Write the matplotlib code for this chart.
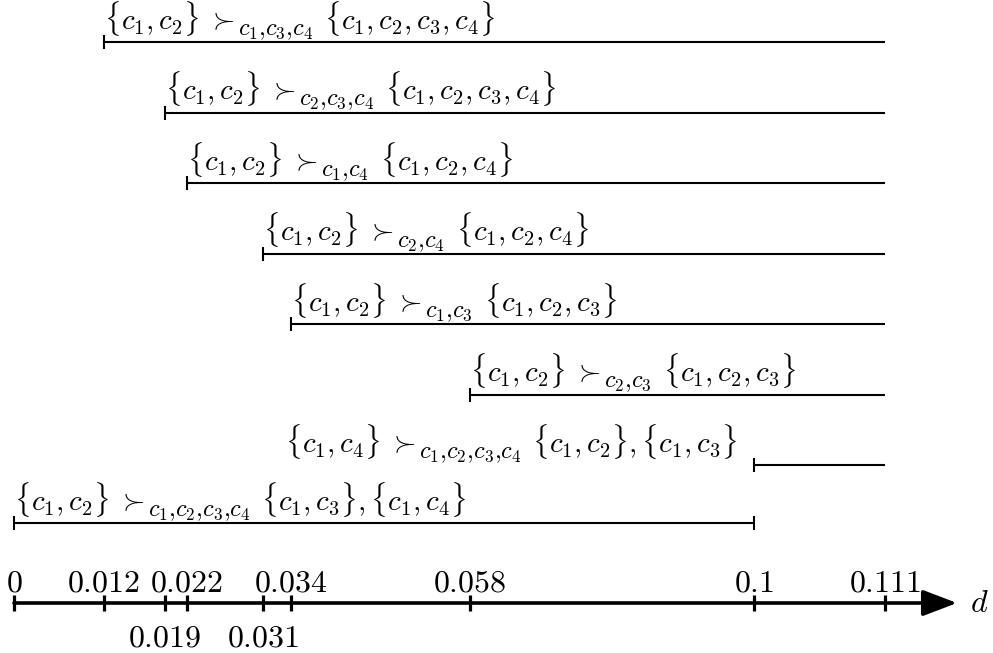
import matplotlib
matplotlib.use('Agg')
import matplotlib.pyplot as plt
import numpy as np

# breakpoints on the d axis
breaks = [0, 0.012, 0.019, 0.022, 0.031, 0.034, 0.058, 0.1, 0.111]
break_labels = ['0', '0.012', '0.019', '0.022', '0.031', '0.034', '0.058', '0.1', '0.111']
labels_below = ['0.019', '0.031']

# intervals (top to bottom)
starts = [0.012, 0.019, 0.022, 0.031, 0.034, 0.058, 0.1, 0]
ends = [0.111, 0.111, 0.111, 0.111, 0.111, 0.111, 0.111, 0.1]
closed_right = [False, False, False, False, False, False, False, True]
lhs = ['c_1, c_2', 'c_1, c_2', 'c_1, c_2', 'c_1, c_2', 'c_1, c_2', 'c_1, c_2', 'c_1, c_4', 'c_1, c_2']
subs = ['c_1,c_3,c_4', 'c_2,c_3,c_4', 'c_1,c_4', 'c_2,c_4', 'c_1,c_3', 'c_2,c_3',
        'c_1,c_2,c_3,c_4', 'c_1,c_2,c_3,c_4']
rhs = [r'\{c_1, c_2, c_3, c_4\}', r'\{c_1, c_2, c_3, c_4\}', r'\{c_1, c_2, c_4\}',
       r'\{c_1, c_2, c_4\}', r'\{c_1, c_2, c_3\}', r'\{c_1, c_2, c_3\}',
       r'\{c_1, c_2\}, \{c_1, c_3\}', r'\{c_1, c_3\}, \{c_1, c_4\}']
text_right = [False, False, False, False, False, False, True, False]

# layout: the drawing is not to scale, so map the breakpoints onto where they sit
px = [14, 104, 165, 187, 263, 291, 470, 754, 885]
slope = (px[-1] - px[0]) / breaks[-1]
b_ext = np.array([-0.05] + breaks + [0.2])
p_ext = np.array([px[0] - 0.05 * slope] + px + [px[-1] + (0.2 - breaks[-1]) * slope])


def fwd(v):
    return np.interp(v, b_ext, p_ext)


def inv(p):
    return np.interp(p, p_ext, b_ext)


row_y = [42, 112.5, 183, 253.5, 324, 394.5, 465, 523]
axis_y = 603

plt.rcParams['mathtext.fontset'] = 'cm'
plt.rcParams['font.family'] = 'serif'
plt.rcParams['font.serif'] = ['DejaVu Serif']
fs = 21
fs_sub = 17.5
gap_sub = 2      # points between the relation and its subscript
gap_rhs = 8      # points between the subscript and the right-hand side
drop_sub = -3    # subscript sits a little below the braces
lift = 3         # text above its interval line

fig = plt.figure(figsize=(9.93, 6.53), dpi=100)
ax = fig.add_axes([0, 0, 1, 1])
ax.set_xscale('function', functions=(fwd, inv))
ax.set_xlim(inv(0), inv(993))
ax.set_ylim(653, 0)
ax.axis('off')

for i in range(len(starts)):
    y = row_y[i]
    ax.plot([starts[i], ends[i]], [y, y], color='black', lw=1.5, solid_capstyle='butt')
    ax.plot([starts[i]], [y], ls='none', marker='|', ms=9.5, mew=1.5, color='black')
    if closed_right[i]:
        ax.plot([ends[i]], [y], ls='none', marker='|', ms=9.5, mew=1.5, color='black')

    t1 = r'$\{' + lhs[i] + r'\}\;\succ$'
    t2 = '$' + subs[i].replace(',', '{,}') + '$'
    t3 = '$' + rhs[i] + '$'
    if not text_right[i]:
        a1 = ax.annotate(t1, (starts[i], y), xytext=(0, lift), textcoords='offset points',
                         ha='left', va='bottom', fontsize=fs)
        a2 = ax.annotate(t2, (1, 0), xycoords=a1, xytext=(gap_sub, drop_sub),
                         textcoords='offset points', ha='left', va='bottom', fontsize=fs_sub)
        ax.annotate(t3, (1, 0), xycoords=(a2, a1), xytext=(gap_rhs, 0),
                    textcoords='offset points', ha='left', va='bottom', fontsize=fs)
    else:
        a3 = ax.annotate(t3, (starts[i], y), xytext=(-12, lift), textcoords='offset points',
                         ha='right', va='bottom', fontsize=fs)
        a2 = ax.annotate(t2, (0, 0), xycoords=a3, xytext=(-gap_rhs, drop_sub),
                         textcoords='offset points', ha='right', va='bottom', fontsize=fs_sub)
        ax.annotate(t1, (0, 0), xycoords=(a2, a3), xytext=(-gap_sub, 0),
                    textcoords='offset points', ha='right', va='bottom', fontsize=fs)

# number line with arrow
ax.annotate('', xy=(957 / 993, axis_y), xycoords=ax.get_yaxis_transform(),
            xytext=(0, axis_y), textcoords='data',
            arrowprops=dict(arrowstyle='-|>,head_length=21,head_width=8', mutation_scale=1,
                            lw=2.6, color='black', shrinkA=0, shrinkB=0))
ax.plot(breaks, [axis_y] * len(breaks), ls='none', marker='|', ms=11.5, mew=2.3, color='black')
ax.annotate(r'$d$', (970 / 993, axis_y), xycoords=ax.get_yaxis_transform(),
            ha='left', va='center', fontsize=23)

for b, lab in zip(breaks, break_labels):
    if lab in labels_below:
        ax.annotate('$' + lab + '$', (b, axis_y), xytext=(0, -14), textcoords='offset points',
                    ha='center', va='top', fontsize=23)
    else:
        ax.annotate('$' + lab + '$', (b, axis_y), xytext=(0, 8), textcoords='offset points',
                    ha='center', va='baseline', fontsize=23)

fig.savefig('out.png', dpi=100)
